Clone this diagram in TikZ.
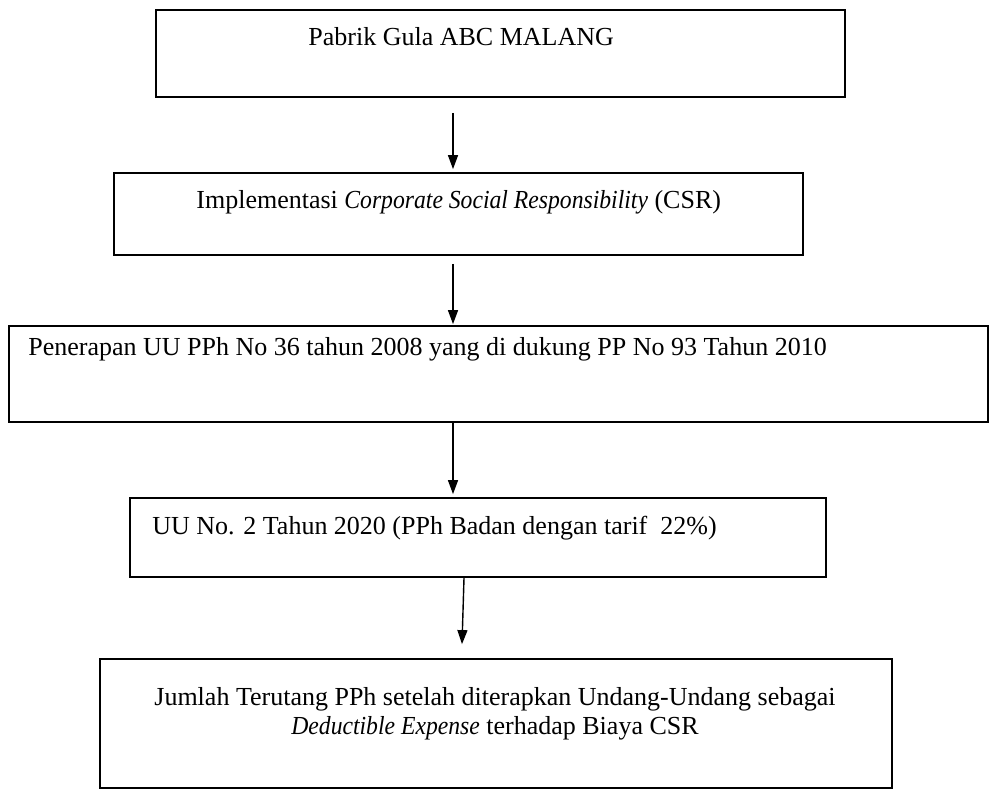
\documentclass[tikz,border=0pt]{standalone}
\usepackage{fontspec}
\setmainfont{Liberation Serif}[ItalicFeatures={FakeStretch=0.91}]
\usetikzlibrary{arrows.meta}

\tikzset{
  flowbox/.style={draw, line width=0.9pt, inner sep=0pt},
  flowtext/.style={inner sep=0pt, font=\fontsize{13}{14.5}\selectfont},
  flowarrow/.style={line width=0.7pt, -{Triangle[length=7pt,width=5pt]}}
}

\begin{document}
\begin{tikzpicture}[x=0.5pt, y=-0.5pt]
  \useasboundingbox (0,0) rectangle (989,789);
  % boxes
  \node[flowbox, minimum width=344.5pt, minimum height=43.5pt] (pabrik) at (500.5,53.5) {};
  \node[flowbox, minimum width=344.5pt, minimum height=41pt] (csr) at (458.5,214) {};
  \node[flowbox, minimum width=489.5pt, minimum height=48pt] (uupph) at (498.5,374) {};
  \node[flowbox, minimum width=348pt, minimum height=39.5pt] (uubadan) at (478,537.5) {};
  \node[flowbox, minimum width=396pt, minimum height=64.5pt] (jumlah) at (496,723.5) {};
  % texts
  \node[flowtext, anchor=west] (tpabrik) at (308,37) {Pabrik Gula ABC MALANG};
  \node[flowtext, anchor=west] (tcsr) at (196,202)
    {Implementasi \textit{Corporate Social Responsibility} (CSR)};
  \node[flowtext, anchor=west] (tuupph) at (28,349)
    {Penerapan UU PPh No 36 tahun 2008 yang di dukung PP No 93 Tahun 2010};
  \node[flowtext, anchor=west] (tuubadan) at (152,528)
    {UU No. 2 Tahun 2020 (PPh Badan dengan tarif~ 22\%)};
  \node[flowtext, align=center] (tjumlah) at (495,714)
    {Jumlah Terutang PPh setelah diterapkan Undang-Undang sebagai\\
     \textit{Deductible Expense} terhadap Biaya CSR};
  % arrows
  \draw[flowarrow] ([xshift=-23.75pt, yshift=-7.5pt]pabrik.south) -- ([xshift=-2.75pt, yshift=1.5pt]csr.north);
  \draw[flowarrow] ([xshift=-2.75pt, yshift=-4pt]csr.south) -- ([xshift=-22.75pt, yshift=0.5pt]uupph.north);
  \draw[flowarrow] ([xshift=-22.75pt]uupph.south) -- ([xshift=-12.5pt, yshift=1.5pt]uubadan.north);
  \draw[flowarrow] ([xshift=-7pt]uubadan.south) -- ([xshift=-17pt, yshift=7pt]jumlah.north);
\end{tikzpicture}
\end{document}
